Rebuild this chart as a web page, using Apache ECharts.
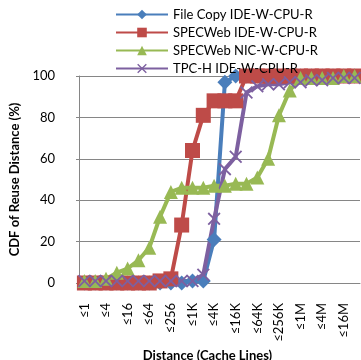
<!DOCTYPE html>
<html>
<head>
<meta charset="utf-8">
<script src="https://cdn.jsdelivr.net/npm/echarts@6/dist/echarts.min.js"></script>
<style>
  html, body { margin: 0; padding: 0; background: #fff; }
  #chart { width: 361px; height: 360px; }
</style>
</head>
<body>
<div id="chart"></div>
<script>
  // reuse distance buckets (powers of two)
  var categories = ['≤1', '≤2', '≤4', '≤8', '≤16', '≤32', '≤64', '≤128', '≤256', '≤512',
    '≤1K', '≤2K', '≤4K', '≤8K', '≤16K', '≤32K', '≤64K', '≤128K', '≤256K', '≤512K',
    '≤1M', '≤2M', '≤4M', '≤8M', '≤16M', '≤32M']

  var fileCopyIde = [0, 0, 0, 0, 0, 0, 0, 0, 0, 0, 1, 1, 21, 97, 100, 100, 100, 100, 100, 100, 100, 100, 100, 100, 100, 100]
  var specWebIde = [0, 0, 0, 0, 0, 0, 0, 1, 2, 28, 64, 81, 88, 88, 88, 100, 100, 100, 100, 100, 100, 100, 100, 100, 100, 100]
  var specWebNic = [1, 1, 2, 5, 7, 11, 17, 32, 44, 46, 46, 46, 47, 47, 48, 48, 51, 60, 81, 93, 99, 99, 99, 99, 100, 100]
  var tpchIde = [1, 1, 1, 1, 1, 1, 1, 1, 1, 1, 1, 4, 31, 55, 61, 92, 95, 96, 96, 97, 97, 98, 98, 99, 99, 99]

  var yTicks = [0, 20, 40, 60, 80, 100]

  var xMark = 'path://M0,1 L1,0 L5,4 L9,0 L10,1 L6,5 L10,9 L9,10 L5,6 L1,10 L0,9 L4,5 Z'
  var font = 'Lato, "Open Sans", sans-serif'

  var chart = echarts.init(document.getElementById('chart'))
  chart.setOption({
    backgroundColor: '#fff',
    animation: false,
    color: ['#4a7ebb', '#be4b48', '#98b954', '#7d60a0'],
    textStyle: { fontFamily: font },
    legend: {
      orient: 'vertical',
      left: 110,
      top: 3,
      itemWidth: 52,
      itemHeight: 12,
      itemGap: 5,
      textStyle: { fontSize: 13, color: '#000', fontFamily: font },
      data: ['File Copy IDE-W-CPU-R', 'SPECWeb IDE-W-CPU-R', 'SPECWeb NIC-W-CPU-R', 'TPC-H IDE-W-CPU-R']
    },
    grid: {
      left: 79,
      right: 1,
      top: 76,
      height: 207,
      containLabel: false,
      outerBoundsMode: 'none'
    },
    xAxis: {
      type: 'category',
      boundaryGap: true,
      data: categories,
      name: 'Distance (Cache Lines)',
      nameLocation: 'middle',
      nameGap: 55,
      nameTextStyle: { fontSize: 13, fontWeight: 'bold', color: '#000', padding: [0, 24, 0, 0] },
      axisLine: { lineStyle: { color: '#868686', width: 1 } },
      axisTick: { interval: 0, length: 4, lineStyle: { color: '#868686' } },
      axisLabel: { interval: 1, rotate: 90, margin: 20, fontSize: 13, color: '#000' },
      splitLine: { show: false }
    },
    yAxis: {
      type: 'value',
      min: yTicks[0],
      max: yTicks[yTicks.length - 1],
      interval: 20,
      name: 'CDF of Reuse Distance (%)',
      nameLocation: 'middle',
      nameGap: 56,
      nameTextStyle: { fontSize: 13, fontWeight: 'bold', color: '#000' },
      axisLine: { show: true, lineStyle: { color: '#868686', width: 1 } },
      axisTick: { show: true, length: 3, lineStyle: { color: '#868686' } },
      axisLabel: { margin: 24, fontSize: 13, color: '#000' },
      splitLine: { lineStyle: { color: '#868686', width: 1 } }
    },
    series: [
      {
        name: 'File Copy IDE-W-CPU-R',
        type: 'line',
        data: fileCopyIde,
        symbol: 'diamond',
        symbolSize: 15,
        showAllSymbol: true,
        lineStyle: { width: 4 }
      },
      {
        name: 'SPECWeb IDE-W-CPU-R',
        type: 'line',
        data: specWebIde,
        symbol: 'rect',
        symbolSize: 15,
        showAllSymbol: true,
        lineStyle: { width: 4 }
      },
      {
        name: 'SPECWeb NIC-W-CPU-R',
        type: 'line',
        data: specWebNic,
        symbol: 'triangle',
        symbolSize: 14,
        showAllSymbol: true,
        lineStyle: { width: 4 }
      },
      {
        name: 'TPC-H IDE-W-CPU-R',
        type: 'line',
        data: tpchIde,
        symbol: xMark,
        symbolSize: 13,
        showAllSymbol: true,
        lineStyle: { width: 4 }
      }
    ]
  })
  window.onresize = function () {
    chart.resize()
  }
</script>
</body>
</html>
